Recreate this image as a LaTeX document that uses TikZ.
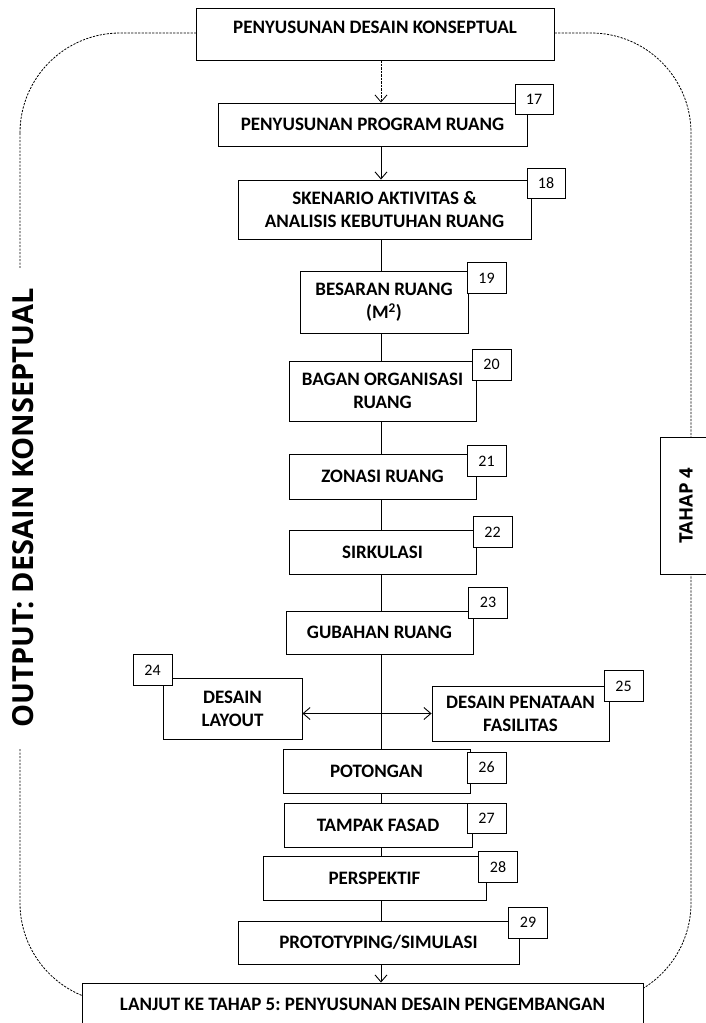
\documentclass[tikz,border=0pt]{standalone}
\usepackage{fontspec}
\setmainfont{Carlito}
\newfontfamily\headfont{Open Sans}
\usetikzlibrary{arrows.meta}
\frenchspacing

\begin{document}
\begin{tikzpicture}[x=1pt,y=-1pt,
  box/.style={draw, line width=0.9pt, fill=white, inner sep=0pt, align=center,
              font=\fontsize{19}{23}\selectfont\bfseries},
  numbox/.style={draw, line width=0.9pt, fill=white, inner sep=0pt,
                 minimum width=39pt, minimum height=31pt,
                 font=\fontsize{16}{18}\selectfont},
  link/.style={line width=0.9pt},
  tip/.style={-{Straight Barb[length=7pt,width=12pt]}},
  dashline/.style={line width=0.8pt, dash pattern=on 2.2pt off 1.3pt},
  sidelabel/.style={rotate=90, fill=white, font=\headfont\fontsize{29}{30}\selectfont\bfseries}
]
\clip (0,0) rectangle (706,1023);
\fill[white] (0,0) rectangle (706,1023);

% dashed frame around the whole stage
\draw[dashline, rounded corners=100pt] (20,33) rectangle (691,1003);

% stage side labels
\node[sidelabel, inner xsep=20pt, inner ysep=3pt] (output) at (23.5,508) {OUTPUT: DESAIN KONSEPTUAL};
\node[draw, line width=0.9pt, fill=white, rotate=90, minimum width=137pt, minimum height=52pt,
      inner sep=0pt, font=\headfont\fontsize{18.5}{20}\selectfont\bfseries] (tahap) at (686,505.5) {TAHAP 4};

% main boxes
\node[box, minimum width=358pt, minimum height=52pt, text depth=14pt] (start) at (375,34) {PENYUSUNAN DESAIN KONSEPTUAL};
\node[box, minimum width=309pt, minimum height=43pt] (b17) at (372.5,124.5) {PENYUSUNAN PROGRAM RUANG};
\node[box, minimum width=293pt, minimum height=59pt] (b18) at (384.5,209.5) {SKENARIO AKTIVITAS \&\\ANALISIS KEBUTUHAN RUANG};
\node[box, minimum width=168pt, minimum height=62pt] (b19) at (384,302) {BESARAN RUANG\\(M\textsuperscript{2})};
\node[box, minimum width=187pt, minimum height=60pt] (b20) at (382.5,391) {BAGAN ORGANISASI\\RUANG};
\node[box, minimum width=187pt, minimum height=45pt] (b21) at (382.5,476.5) {ZONASI RUANG};
\node[box, minimum width=187pt, minimum height=44pt] (b22) at (382.5,552) {SIRKULASI};
\node[box, minimum width=187pt, minimum height=43pt] (b23) at (379.5,632.5) {GUBAHAN RUANG};
\node[box, minimum width=139pt, minimum height=61pt] (b24) at (232.5,708.5) {DESAIN\\LAYOUT};
\node[box, minimum width=177pt, minimum height=55pt] (b25) at (520.5,713.5) {DESAIN PENATAAN\\FASILITAS};
\node[box, minimum width=187pt, minimum height=44pt] (b26) at (376.5,771) {POTONGAN};
\node[box, minimum width=188pt, minimum height=44pt] (b27) at (378,825) {TAMPAK FASAD};
\node[box, minimum width=223pt, minimum height=44pt] (b28) at (374.5,878) {PERSPEKTIF};
\node[box, minimum width=281pt, minimum height=43pt] (b29) at (378.5,942.5) {PROTOTYPING/SIMULASI};
\node[box, minimum width=561pt, minimum height=43pt] (next) at (362.5,1004.5) {LANJUT KE TAHAP 5: PENYUSUNAN DESAIN PENGEMBANGAN};

% step numbers
\node[numbox, minimum width=38pt, minimum height=30pt] (n17) at (534,99) {17};
\node[numbox, minimum width=38pt, minimum height=30pt] (n18) at (546,183) {18};
\node[numbox] (n19) at (486.5,278) {19};
\node[numbox] (n20) at (491.5,364.5) {20};
\node[numbox] (n21) at (486.5,461) {21};
\node[numbox] (n22) at (492.5,532) {22};
\node[numbox] (n23) at (488,602.5) {23};
\node[numbox] (n24) at (152.5,670) {24};
\node[numbox] (n25) at (623.5,686) {25};
\node[numbox] (n26) at (486.5,767.5) {26};
\node[numbox, minimum height=30pt] (n27) at (486.5,818) {27};
\node[numbox] (n28) at (498,867) {28};
\node[numbox] (n29) at (528,922.5) {29};

% connectors along the central spine
\coordinate (spine) at (381,0);
\draw[dashline, tip] (start.south -| spine) -- (b17.north -| spine);
\draw[link, tip] (b17.south -| spine) -- (b18.north -| spine);
\draw[link] (b18.south -| spine) -- (b19.north -| spine);
\draw[link] (b19.south -| spine) -- (b20.north -| spine);
\draw[link] (b20.south -| spine) -- (b21.north -| spine);
\draw[link] (b21.south -| spine) -- (b22.north -| spine);
\draw[link] (b22.south -| spine) -- (b23.north -| spine);
\draw[link] (b23.south -| spine) -- (b26.north -| spine);
\draw[link] (b26.south -| spine) -- (b27.north -| spine);
\draw[link] (b27.south -| spine) -- (b28.north -| spine);
\draw[link] (b28.south -| spine) -- (b29.north -| spine);
\draw[link, tip] (b29.south -| spine) -- (next.north -| spine);

% two-way link between the layout boxes
\draw[link, {Straight Barb[length=7pt,width=12pt]}-{Straight Barb[length=7pt,width=12pt]}]
  (b24.east |- b25.west) -- (b25.west);
\end{tikzpicture}
\end{document}
